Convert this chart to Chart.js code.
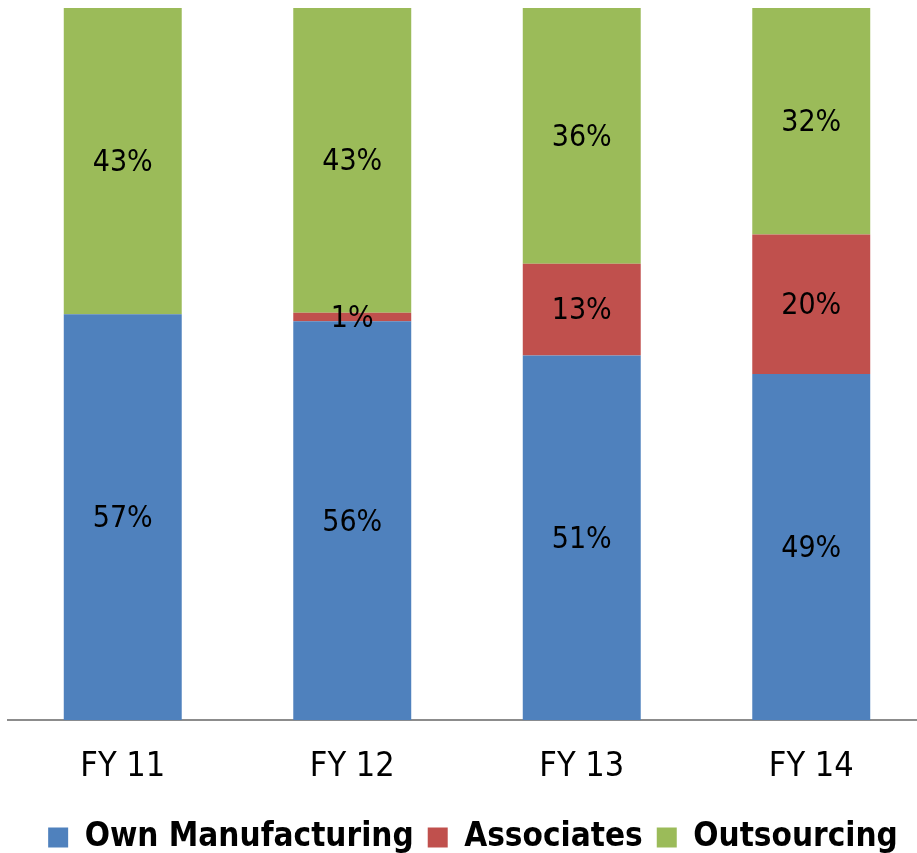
<!DOCTYPE html>
<html>
<head>
<meta charset="utf-8">
<script src="https://cdn.jsdelivr.net/npm/chart.js@4"></script>
<style>
  html, body { margin: 0; padding: 0; background: #fff; overflow: hidden; }
  #wrap { width: 945px; height: 853px; overflow: hidden; }
</style>
</head>
<body>
<div id="wrap"><canvas id="mix-chart" width="945" height="868"></canvas></div>
<script>
"use strict";

// 연도별 생산 구성 (%)
const CATEGORIES = ["FY 11", "FY 12", "FY 13", "FY 14"];
const OWN_MANUFACTURING = [57, 56, 51.2, 48.6];
const ASSOCIATES = [0, 1.2, 12.9, 19.6];
const OUTSOURCING = [43, 42.8, 35.9, 31.8];

const FONT = "'DejaVu Sans Condensed', 'DejaVu Sans', sans-serif";

// 각 막대 구간 가운데에 % 라벨
const segmentLabels = {
  id: "segmentLabels",
  afterDatasetsDraw(chart) {
    const ctx = chart.ctx;
    ctx.save();
    ctx.font = `30px ${FONT}`;
    ctx.fillStyle = "#000";
    ctx.textAlign = "center";
    ctx.textBaseline = "middle";
    chart.data.datasets.forEach((ds, i) => {
      const meta = chart.getDatasetMeta(i);
      meta.data.forEach((bar, j) => {
        const v = ds.data[j];
        if (!v) return;
        ctx.fillText(`${Math.round(v)}%`, bar.x, (bar.y + bar.base) / 2 + 2);
      });
    });
    ctx.restore();
  },
};

// 범례를 원본처럼 살짝 오른쪽으로
const legendNudge = {
  id: "legendNudge",
  afterLayout(chart) {
    if (!chart.legend) return;
    chart.legend.left += 6;
    chart.legend.right += 6;
  },
};

new Chart(document.getElementById("mix-chart").getContext("2d"), {
  type: "bar",
  data: {
    labels: CATEGORIES,
    datasets: [
      { label: "Own Manufacturing", data: OWN_MANUFACTURING, backgroundColor: "#4f81bd" },
      { label: "Associates", data: ASSOCIATES, backgroundColor: "#c0504d" },
      { label: "Outsourcing", data: OUTSOURCING, backgroundColor: "#9bbb59" },
    ],
  },
  options: {
    responsive: false,
    animation: false,
    devicePixelRatio: 1,
    categoryPercentage: 1,
    barPercentage: 0.514,
    layout: { padding: { left: 8, right: 19, top: 8, bottom: 4 } },
    scales: {
      x: {
        stacked: true,
        grid: { display: false },
        border: { display: true, color: "#8c8c8c", width: 2 },
        ticks: { color: "#000", padding: 19, font: { family: FONT, size: 34 } },
      },
      y: { stacked: true, min: 0, max: 100, display: false },
    },
    plugins: {
      legend: {
        position: "bottom",
        labels: {
          color: "#000",
          boxWidth: 20,
          boxHeight: 20,
          padding: 14,
          font: { family: FONT, size: 33, weight: "bold" },
        },
      },
      tooltip: { enabled: false },
    },
  },
  plugins: [segmentLabels, legendNudge],
});
</script>
</body>
</html>
